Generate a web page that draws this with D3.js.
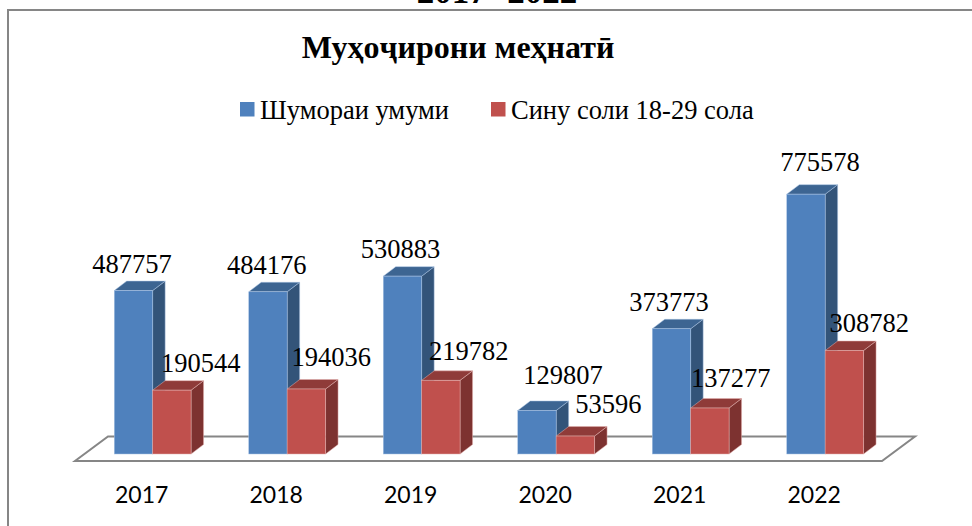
<!DOCTYPE html>
<html>
<head>
<meta charset="utf-8">
<script src="https://cdnjs.cloudflare.com/ajax/libs/d3/7.8.5/d3.min.js"></script>
<style>
    html, body { margin: 0; padding: 0; background: #fff; overflow: hidden; }
    svg { display: block; }
    .serif { font-family: "Liberation Serif", serif; fill: #000; }
</style>
</head>
<body>
<div id="chart"></div>
<script>
const years = ["2017", "2018", "2019", "2020", "2021", "2022"];
const totalValues = [487757, 484176, 530883, 129807, 373773, 775578];
const youthValues = [190544, 194036, 219782, 53596, 137277, 308782];
const seriesNames = ["Шумораи умуми", "Сину соли 18-29 сола"];

// labels were moved by hand in the original, offsets from top centre of each bar
const totalLabelOffsets = [[-1.5, -18], [-1.3, -18], [-2, -18], [26, -26.5], [-2.5, -18], [14, -23]];
const youthLabelOffsets = [[29, -18], [25, -23], [28, -20], [33, -23], [21, -21], [25, -18.6]];

const width = 972;
const height = 526;
const depth = { x: 12.5, y: -9.5 };
const colors = [
    { front: "#4f81bd", side: "#335479", top: "#3d6592", edge: "#a9c3e3" },
    { front: "#c0504d", side: "#7d3230", top: "#8f3b39", edge: "#e3b1af" }
];

const svg = d3.select("#chart").append("svg")
    .attr("width", width)
    .attr("height", height);

// Scales
const xScale = d3.scaleBand().domain(years).range([85.4, 892.4]);
const barWidth = 38.4;
const xSeries = d3.scaleBand().domain([0, 1])
    .range([xScale.bandwidth() / 2 - barWidth, xScale.bandwidth() / 2 + barWidth]);
const yScale = d3.scaleLinear().domain([0, 800000]).range([454, 186]);

// Heading of the page above the chart, cut off by the crop
svg.append("text")
    .attr("class", "serif")
    .attr("x", 497)
    .attr("y", 3)
    .attr("text-anchor", "middle")
    .style("font-size", "35px")
    .style("font-weight", "bold")
    .text("2017- 2022");

// Chart frame
svg.append("path")
    .attr("d", `M8,${height}V10H${width}`)
    .attr("fill", "none")
    .attr("stroke", "#868686")
    .attr("stroke-width", 2);

// Title
svg.append("text")
    .attr("class", "serif")
    .attr("x", 458)
    .attr("y", 58)
    .attr("text-anchor", "middle")
    .style("font-size", "32px")
    .style("font-weight", "bold")
    .text("Муҳоҷирони меҳнатӣ");

// Legend
const legend = svg.selectAll(".legend-item")
    .data(seriesNames)
    .enter()
    .append("g")
    .attr("class", "legend-item")
    .attr("transform", (d, i) => `translate(${[240, 491][i]},102)`);

legend.append("rect")
    .attr("width", 14.5)
    .attr("height", 14.5)
    .attr("fill", (d, i) => colors[i].front);

legend.append("text")
    .attr("class", "serif")
    .attr("x", 20)
    .attr("y", 17)
    .style("font-size", "26.5px")
    .text(d => d);

// Floor of the 3d plot
svg.append("path")
    .attr("d", "M75,461H882L915,436.5H108Z")
    .attr("fill", "#fff")
    .attr("stroke", "#868686")
    .attr("stroke-width", 2);

// Bars
const rows = years.map((year, i) => ({ year, values: [totalValues[i], youthValues[i]], offsets: [totalLabelOffsets[i], youthLabelOffsets[i]] }));

const groups = svg.selectAll(".year")
    .data(rows)
    .enter()
    .append("g")
    .attr("class", "year")
    .attr("transform", d => `translate(${xScale(d.year)},0)`);

const bars = groups.selectAll(".bar")
    .data(d => d.values.map((value, s) => ({ value, s, offset: d.offsets[s], year: d.year })))
    .enter()
    .append("g")
    .attr("class", "bar");

const poly = pts => pts.map(p => p.join(",")).join(" ");

bars.append("polygon")
    .attr("points", d => {
        const x1 = xSeries(d.s) + xSeries.bandwidth();
        return poly([[x1, yScale(d.value)], [x1 + depth.x, yScale(d.value) + depth.y],
            [x1 + depth.x, yScale(0) + depth.y], [x1, yScale(0)]]);
    })
    .attr("fill", d => colors[d.s].side)
    .attr("stroke", d => colors[d.s].edge)
    .attr("stroke-width", 0.5);

bars.append("polygon")
    .attr("points", d => {
        const x0 = xSeries(d.s);
        const x1 = x0 + xSeries.bandwidth();
        const y = yScale(d.value);
        return poly([[x0, y], [x1, y], [x1 + depth.x, y + depth.y], [x0 + depth.x, y + depth.y]]);
    })
    .attr("fill", d => colors[d.s].top)
    .attr("stroke", d => colors[d.s].edge)
    .attr("stroke-width", 0.5);

bars.append("rect")
    .attr("x", d => xSeries(d.s))
    .attr("y", d => yScale(d.value))
    .attr("width", xSeries.bandwidth())
    .attr("height", d => yScale(0) - yScale(d.value))
    .attr("fill", d => colors[d.s].front)
    .attr("stroke", d => colors[d.s].edge)
    .attr("stroke-width", 0.5);

// Value labels, on top of every bar
svg.selectAll(".bar-label")
    .data(rows.flatMap(r => r.values.map((value, s) => ({ value, s, year: r.year, offset: r.offsets[s] }))))
    .enter()
    .append("text")
    .attr("class", "bar-label serif")
    .attr("x", d => xScale(d.year) + xSeries(d.s) + xSeries.bandwidth() / 2 + d.offset[0])
    .attr("y", d => yScale(d.value) + d.offset[1])
    .attr("text-anchor", "middle")
    .style("font-size", "26.5px")
    .text(d => d.value);

// Category axis, labels only
const xAxis = svg.append("g")
    .attr("class", "x-axis")
    .attr("transform", "translate(-11,487)")
    .call(d3.axisBottom(xScale).tickSize(0).tickPadding(0));

xAxis.select(".domain").remove();
xAxis.selectAll("text")
    .attr("dy", "0.71em")
    .style("font-family", "Lato, sans-serif")
    .style("font-size", "23px")
    .style("fill", "#000");
</script>
</body>
</html>
